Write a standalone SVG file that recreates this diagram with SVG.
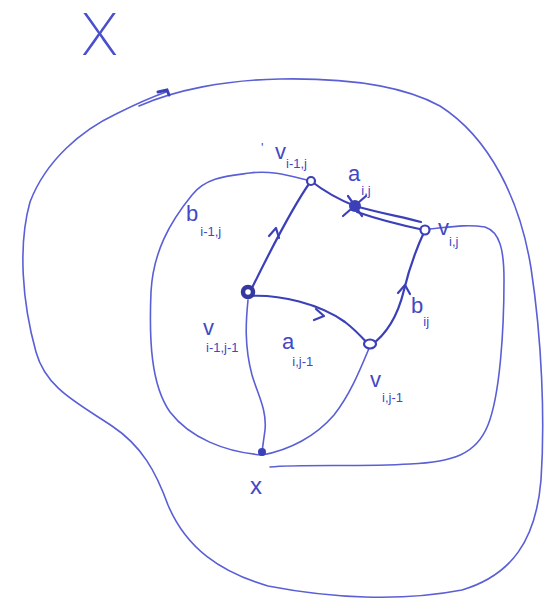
<svg xmlns="http://www.w3.org/2000/svg" width="560" height="609" viewBox="0 0 560 609">
<style>
.ink{fill:none;stroke:#5a5fd6;stroke-width:1.6;stroke-linecap:round;stroke-linejoin:round}
.edge{fill:none;stroke:#3c40b8;stroke-width:2.2;stroke-linecap:round;stroke-linejoin:round}
.node{fill:#fff;stroke:#3c40b8;stroke-width:2.2}
.lbl{font-family:"Liberation Sans","DejaVu Sans",sans-serif;fill:#4248c4}
.main{font-size:22px}
.sub{font-size:13px}
.thin{font-family:"Inter","DejaVu Sans",sans-serif;font-weight:200;fill:#4a4fcc}
</style>
<rect width="560" height="609" fill="#ffffff"/>
<g id="regions">
<path class="ink" d="M139,106 C175,90 225,80 280,79 C340,78 400,84 440,106 C490,138 520,200 531,268 C542,340 545,420 541,480 C536,540 512,575 462,590 C400,602 330,598 268,586 C220,572 186,548 168,505 C156,472 142,446 112,426 C76,402 46,388 36,352 C22,302 18,245 30,202 C46,160 82,130 116,114 C136,104 152,97 166,92"/>
<path d="M158,92 L167,90 L169,95" fill="none" stroke="#3c40b8" stroke-width="3" stroke-linecap="round"/>
<path class="ink" d="M311,181 C290,176 272,170 250,173 C228,176 206,177 192,195 C170,222 153,252 151,292 C149,340 151,385 170,412 C190,438 225,452 262,455 C290,450 316,436 334,415 C350,395 360,370 370,346"/>
<path class="ink" d="M270,467 C300,464 360,467 410,464 C452,462 476,455 488,425 C500,395 504,330 504,280 C504,250 500,232 485,227 C466,224 450,227 430,229"/>
<path class="ink" d="M248,300 C246,320 244,345 252,375 C258,395 267,410 265,430 C263,445 262,450 262,455"/>
</g>
<g id="connectors">
<path class="edge" d="M248,296 C262,268 288,213 311,181"/>
<path class="edge" d="M269,236 L276,228 L279,238"/>
<path class="edge" d="M311,181 C325,192 340,200 355,206 C380,213 402,217 421,222"/>
<path class="edge" d="M357,212 C380,220 405,226 424,230" stroke-width="1.6"/>
<path class="edge" d="M248,296 C280,294 320,304 345,322 C358,332 364,340 370,346"/>
<path class="edge" d="M316,309 L324,316 L314,320"/>
<path class="edge" d="M370,346 C386,335 398,315 404,290 C410,265 418,245 425,230"/>
<path class="edge" d="M398,293 L405,285 L410,294"/>
</g>
<g id="node-v-i-1-j">
<circle class="node" cx="311" cy="181" r="4" stroke-width="1.8"/>
<text class="lbl main" x="275" y="159">v<tspan class="sub" dx="0" dy="9">i-1,j</tspan></text>
<text class="lbl sub" x="261" y="152">'</text>
</g>
<g id="node-a-ij">
<circle cx="355" cy="206" r="6" fill="#3c40b8"/>
<path class="edge" d="M343,216 L366,196 M348,196 L362,216" stroke-width="2"/>
<text class="lbl main" x="348" y="181">a<tspan class="sub" dx="1" dy="14">i,j</tspan></text>
</g>
<g id="node-v-ij">
<circle class="node" cx="425" cy="230" r="4.5"/>
<text class="lbl main" x="438" y="235">v<tspan class="sub" dx="0" dy="11">i,j</tspan></text>
</g>
<g id="node-v-i-1-j-1">
<circle cx="248" cy="292" r="5" fill="#fff" stroke="#34389f" stroke-width="4.5"/>
<text class="lbl main" x="203" y="335">v<tspan class="sub" dx="-8" dy="17">i-1,j-1</tspan></text>
</g>
<g id="node-v-i-j-1">
<ellipse class="node" cx="370" cy="344" rx="6" ry="4.5" stroke-width="3"/>
<text class="lbl main" x="370" y="387">v<tspan class="sub" dx="1" dy="15">i,j-1</tspan></text>
</g>
<g id="node-x">
<circle cx="262" cy="452" r="4" fill="#3c40b8"/>
<text class="lbl" x="250" y="494" font-size="24px">x</text>
</g>
<g id="labels">
<text class="lbl main" x="186" y="221" font-size="25px">b<tspan class="sub" dx="2" dy="15">i-1,j</tspan></text>
<text class="lbl main" x="282" y="349">a<tspan class="sub" dx="-2" dy="17">i,j-1</tspan></text>
<text class="lbl main" x="411" y="313">b<tspan class="sub" dx="0" dy="13">ij</tspan></text>
<text class="thin" x="81" y="55" font-size="58px">X</text>
</g>
</svg>
